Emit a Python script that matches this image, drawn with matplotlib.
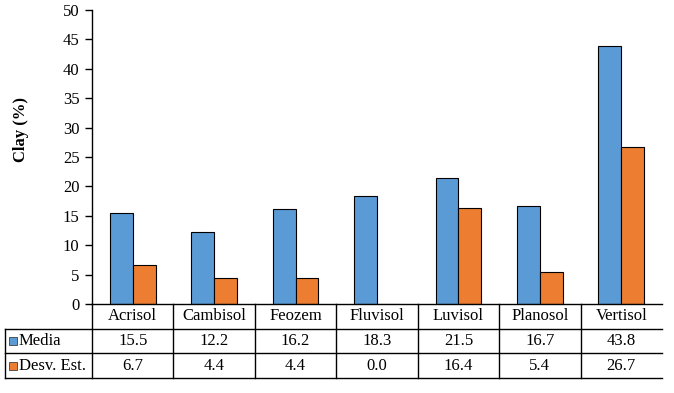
import matplotlib
matplotlib.use("Agg")
import matplotlib.pyplot as plt
from matplotlib.lines import Line2D
from matplotlib.patches import Rectangle

categories = ["Acrisol", "Cambisol", "Feozem", "Fluvisol", "Luvisol", "Planosol", "Vertisol"]
media = [15.5, 12.2, 16.2, 18.3, 21.5, 16.7, 43.8]
desv = [6.7, 4.4, 4.4, 0.0, 16.4, 5.4, 26.7]
series_names = ["Media", "Desv. Est."]
colors = ["#5B9BD5", "#ED7D31"]

plt.rcParams['font.family'] = ['Liberation Serif', 'DejaVu Serif']

W, H = 674, 393
fig = plt.figure(figsize=(W / 100, H / 100), dpi=100)
L, R, T, B = 92, 662, 10, 304
ax = fig.add_axes([L / W, 1 - B / H, (R - L) / W, (B - T) / H])

n = len(categories)
x = list(range(n))
bw = 0.28
ax.bar([i - bw / 2 for i in x], media, width=bw, color=colors[0], edgecolor="black", linewidth=0.8)
ax.bar([i + bw / 2 for i in x], desv, width=bw, color=colors[1], edgecolor="black", linewidth=0.8)

ax.set_xlim(-0.5, n - 0.5)
ax.set_ylim(0, 50)
ax.set_yticks(range(0, 51, 5))
ax.tick_params(axis='y', direction='out', length=5, width=1, labelsize=12, pad=4)
ax.set_xticks([])
for s in ["top", "right"]:
    ax.spines[s].set_visible(False)
ax.spines["left"].set_linewidth(1)
ax.spines["bottom"].set_linewidth(1)
ax.set_ylabel("Clay (%)", fontsize=12, fontweight="bold")
ax.yaxis.set_label_coords((29 - L) / (R - L), (B - 129) / (B - T))

# Table drawn in figure pixel coordinates
def fx(px):
    return px / W

def fy(py):
    return 1 - py / H

row_y = [304, 328.5, 353, 378]
cell_w = (R - L) / n
lw = 1.0
for ry in row_y[1:]:
    fig.add_artist(Line2D([fx(5), fx(R)], [fy(ry), fy(ry)], color="black", lw=lw))
fig.add_artist(Line2D([fx(5), fx(5)], [fy(row_y[1]), fy(row_y[3])], color="black", lw=lw))
for i in range(n):
    xx = L + i * cell_w
    fig.add_artist(Line2D([fx(xx), fx(xx)], [fy(row_y[0]), fy(row_y[3])], color="black", lw=lw))

fs = 12
for i, c in enumerate(categories):
    cx = L + (i + 0.5) * cell_w
    fig.text(fx(cx), fy((row_y[0] + row_y[1]) / 2), c, ha="center", va="center", fontsize=fs)
    fig.text(fx(cx), fy((row_y[1] + row_y[2]) / 2), f"{media[i]:.1f}", ha="center", va="center", fontsize=fs)
    fig.text(fx(cx), fy((row_y[2] + row_y[3]) / 2), f"{desv[i]:.1f}", ha="center", va="center", fontsize=fs)

for k, name in enumerate(series_names):
    cy = (row_y[k + 1] + row_y[k + 2]) / 2
    fig.add_artist(Rectangle((fx(9), fy(cy + 4)), 8 / W, 8 / H, facecolor=colors[k],
                             edgecolor="#404040", lw=0.6))
    fig.text(fx(19), fy(cy), name, ha="left", va="center", fontsize=fs)

fig.savefig("out.png", dpi=100)
